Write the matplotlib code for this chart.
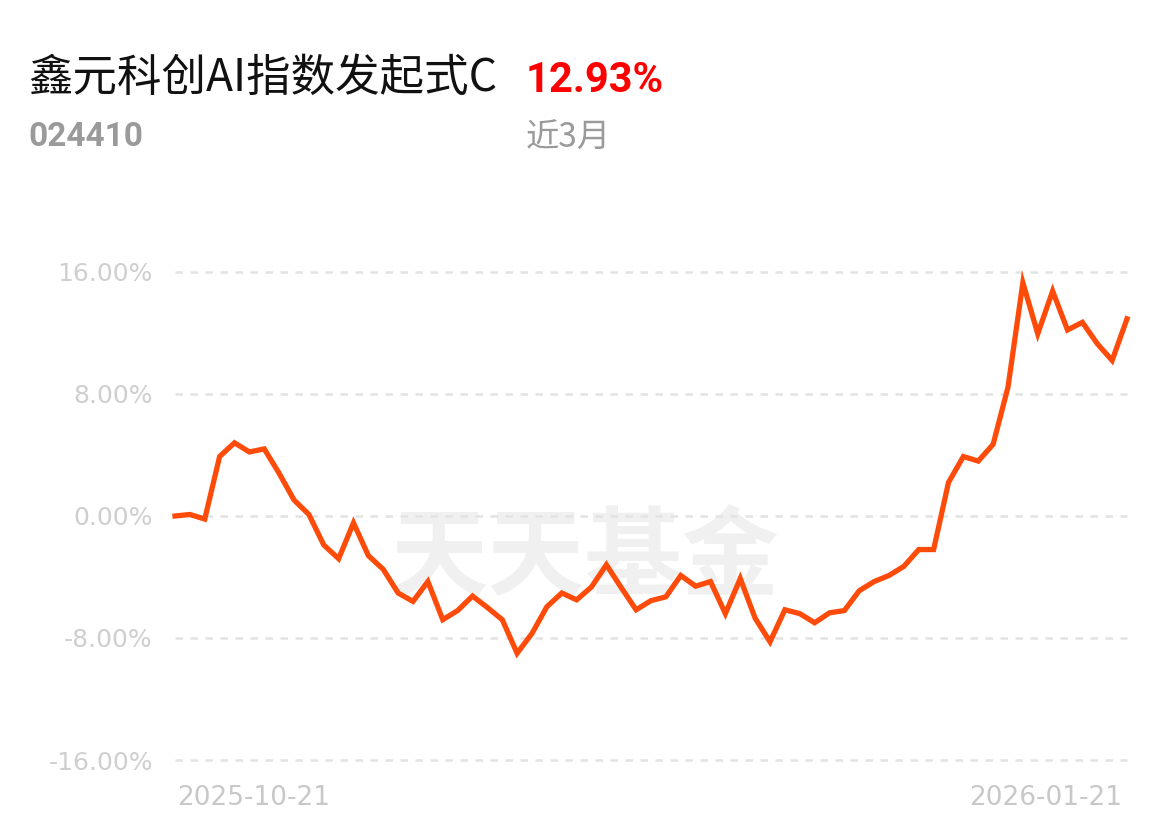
import numpy as np
import matplotlib.pyplot as plt

plt.rcParams['font.family'] = ['Noto Sans CJK SC', 'DejaVu Sans']

fund_name = '鑫元科创AI指数发起式C'
fund_code = '024410'
period_label = '近3月'
period_return = '12.93%'
start_date = '2025-10-21'
end_date = '2026-01-21'

# cumulative return (%), 65 trading days
returns = [0.0, 0.1, -0.2, 3.9, 4.8, 4.2, 4.4, 2.8, 1.05, 0.1,
           -1.9, -2.8, -0.45, -2.6, -3.5, -5.05, -5.6, -4.3, -6.8, -6.2,
           -5.25, -6.0, -6.8, -9.0, -7.7, -5.95, -5.05, -5.5, -4.65, -3.2,
           -4.7, -6.15, -5.55, -5.3, -3.9, -4.6, -4.3, -6.4, -4.1, -6.7,
           -8.25, -6.15, -6.4, -7.0, -6.35, -6.2, -4.9, -4.3, -3.9, -3.3,
           -2.2, -2.2, 2.2, 3.9, 3.6, 4.7, 8.45, 15.3, 11.95, 14.75,
           12.2, 12.7, 11.3, 10.2, 12.93]
yticks = [-16, -8, 0, 8, 16]

W, H = 1170, 836
fig = plt.figure(figsize=(W / 100, H / 100), dpi=100)
ax = fig.add_axes([175 / W, 1 - 760 / H, (1127 - 175) / W, (760 - 272) / H])

x = np.arange(len(returns))
ax.set_xlim(0, len(returns) - 1)
ax.set_ylim(-16, 16)

for t in yticks:
    ax.axhline(t, color='#e3e3e3', lw=1.8, ls=(0, (3, 3)), zorder=1, clip_on=False)

ax.text(0.43, 0.41, '天天基金', transform=ax.transAxes, ha='center', va='center',
        fontsize=70, fontweight='bold', color='#f0f0f0', zorder=0)

ax.plot(x, returns, color='#ff4b0a', lw=3.8, solid_joinstyle='miter', zorder=3, clip_on=False)

ax.set_yticks(yticks)
ax.set_yticklabels([f'{t:.2f}%' for t in yticks], color='#cfcfcf', fontsize=18,
                   family='DejaVu Sans')
ax.tick_params(axis='y', length=0, pad=16)
ax.set_xticks([])
for s in ax.spines.values():
    s.set_visible(False)

ax.text(0.002, -0.078, start_date, transform=ax.transAxes, ha='left', va='center',
        fontsize=19, color='#c8c8c8', family='DejaVu Sans')
ax.text(0.995, -0.078, end_date, transform=ax.transAxes, ha='right', va='center',
        fontsize=19, color='#c8c8c8', family='DejaVu Sans')

fig.text(28 / W, 1 - 78 / H, fund_name, ha='left', va='center', fontsize=32, color='#111111')
fig.text(526 / W, 1 - 80 / H, period_return, ha='left', va='center', fontsize=30,
         fontweight='bold', color='#ff0000', family=['Roboto', 'DejaVu Sans'])
fig.text(28 / W, 1 - 137 / H, fund_code, ha='left', va='center', fontsize=24,
         fontweight='bold', color='#9a9a9a', family=['Roboto', 'DejaVu Sans'])
fig.text(526 / W, 1 - 138 / H, period_label, ha='left', va='center', fontsize=24, color='#9a9a9a')

fig.savefig('out.png', dpi=100, facecolor='white')
